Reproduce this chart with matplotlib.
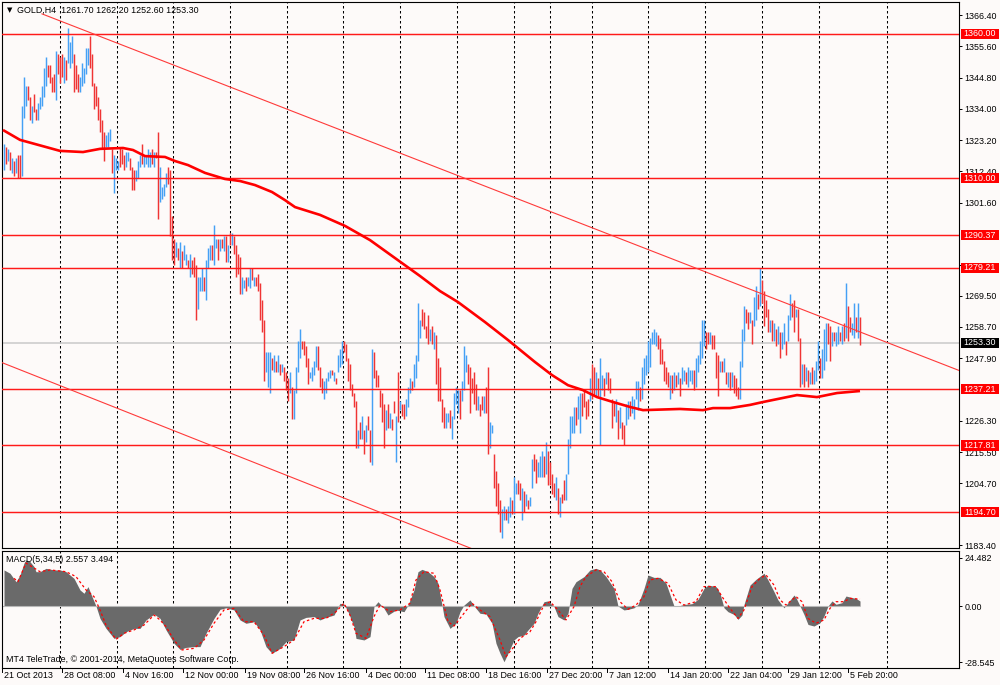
import matplotlib
matplotlib.use("Agg")
import matplotlib.pyplot as plt
import matplotlib.transforms as mtransforms
from matplotlib.patches import Rectangle

plt.rcParams['font.family'] = ['Liberation Sans', 'DejaVu Sans']

# ---- H4 price bars (one entry per bar) ----
bar_low = [
    1313, 1315, 1316, 1313, 1312, 1311, 1312, 1310, 1310, 1311,
    1331, 1335, 1337, 1330, 1329, 1333, 1330, 1330, 1334, 1335,
    1338, 1342, 1345, 1343, 1340, 1340, 1337, 1346, 1343, 1345,
    1343, 1344, 1350, 1348, 1350, 1340, 1341, 1340, 1340, 1342,
    1343, 1346, 1349, 1348, 1342, 1334, 1335, 1330, 1326, 1320,
    1316, 1321, 1321, 1323, 1312, 1305, 1313, 1313, 1314, 1315,
    1313, 1314, 1316, 1313, 1306, 1306, 1309, 1310, 1314, 1315,
    1314, 1315, 1314, 1314, 1315, 1314, 1317, 1296, 1302, 1303,
    1304, 1307, 1308, 1290, 1282, 1280, 1283, 1282, 1279, 1279,
    1282, 1280, 1279, 1276, 1277, 1276, 1261, 1265, 1271, 1271,
    1271, 1268, 1279, 1282, 1282, 1280, 1286, 1282, 1285, 1286,
    1285, 1281, 1281, 1287, 1287, 1284, 1276, 1277, 1270, 1270,
    1272, 1271, 1273, 1272, 1275, 1273, 1273, 1271, 1261, 1257,
    1240, 1243, 1238, 1236, 1244, 1243, 1243, 1243, 1242, 1243,
    1240, 1237, 1233, 1236, 1227, 1227, 1236, 1243, 1248, 1251,
    1249, 1245, 1239, 1241, 1240, 1242, 1245, 1244, 1238, 1236,
    1234, 1236, 1240, 1241, 1242, 1240, 1239, 1243, 1245, 1246,
    1250, 1247, 1240, 1237, 1235, 1231, 1217, 1217, 1220, 1220,
    1215, 1219, 1223, 1212, 1211, 1241, 1238, 1238, 1231, 1226,
    1217, 1223, 1224, 1224, 1223, 1229, 1212, 1226, 1230, 1228,
    1227, 1228, 1231, 1236, 1237, 1238, 1241, 1247, 1255, 1259,
    1258, 1255, 1253, 1254, 1253, 1251, 1239, 1233, 1233, 1226,
    1224, 1224, 1226, 1224, 1220, 1227, 1232, 1229, 1227, 1233,
    1237, 1243, 1239, 1229, 1236, 1232, 1230, 1230, 1228, 1230,
    1229, 1229, 1215, 1217, 1222, 1203, 1197, 1194, 1188, 1186,
    1192, 1192, 1191, 1193, 1194, 1194, 1201, 1201, 1199, 1192,
    1195, 1197, 1196, 1197, 1203, 1209, 1205, 1207, 1207, 1207,
    1207, 1208, 1204, 1204, 1201, 1200, 1199, 1194, 1193, 1198,
    1199, 1199, 1208, 1217, 1222, 1222, 1225, 1227, 1222, 1228,
    1231, 1227, 1228, 1233, 1234, 1235, 1235, 1235, 1218, 1237,
    1235, 1239, 1237, 1236, 1224, 1228, 1226, 1220, 1224, 1220,
    1218, 1225, 1227, 1228, 1229, 1227, 1234, 1230, 1233, 1234,
    1239, 1242, 1243, 1245, 1253, 1253, 1252, 1251, 1246, 1246,
    1240, 1239, 1238, 1234, 1236, 1237, 1238, 1239, 1235, 1239,
    1240, 1239, 1238, 1240, 1239, 1237, 1238, 1243, 1246, 1248,
    1252, 1251, 1253, 1253, 1251, 1251, 1241, 1235, 1243, 1243,
    1243, 1239, 1238, 1237, 1238, 1236, 1235, 1234, 1234, 1245,
    1254, 1260, 1258, 1260, 1253, 1259, 1261, 1265, 1266, 1267,
    1259, 1262, 1257, 1257, 1254, 1254, 1252, 1253, 1248, 1251,
    1253, 1249, 1254, 1261, 1262, 1257, 1262, 1254, 1238, 1239,
    1238, 1240, 1238, 1239, 1239, 1239, 1240, 1244, 1241, 1241,
    1244, 1247, 1253, 1247, 1252, 1254, 1252, 1253, 1254, 1253,
    1254, 1255, 1254, 1257, 1256, 1255, 1257, 1255, 1252.6,
]
bar_high = [
    1322, 1321, 1320, 1319, 1317, 1316, 1317, 1318, 1318, 1335,
    1345, 1342, 1342, 1338, 1335, 1339, 1334, 1336, 1338, 1342,
    1348, 1352, 1349, 1349, 1345, 1346, 1354, 1353, 1352, 1353,
    1352, 1351, 1362, 1357, 1359, 1353, 1349, 1346, 1345, 1350,
    1348, 1355, 1355, 1359, 1353, 1343, 1342, 1338, 1334, 1330,
    1326, 1325, 1326, 1327, 1320, 1318, 1317, 1316, 1321, 1320,
    1318, 1319, 1319, 1317, 1314, 1313, 1313, 1316, 1318, 1322,
    1318, 1318, 1320, 1319, 1320, 1319, 1319, 1326, 1314, 1307,
    1308, 1312, 1314, 1313, 1297, 1289, 1288, 1286, 1288, 1285,
    1287, 1284, 1282, 1284, 1282, 1283, 1280, 1276, 1276, 1279,
    1276, 1282, 1286, 1287, 1287, 1294, 1289, 1289, 1289, 1289,
    1290, 1290, 1287, 1291, 1291, 1290, 1287, 1284, 1283, 1276,
    1275, 1276, 1276, 1279, 1279, 1276, 1276, 1277, 1274, 1268,
    1261, 1250, 1250, 1250, 1248, 1249, 1247, 1249, 1246, 1246,
    1245, 1243, 1241, 1243, 1238, 1237, 1245, 1254, 1258, 1254,
    1254, 1252, 1248, 1243, 1245, 1247, 1252, 1252, 1245, 1241,
    1240, 1241, 1243, 1244, 1244, 1243, 1241, 1249, 1251, 1254,
    1254, 1253, 1248, 1246, 1239, 1236, 1233, 1223, 1226, 1228,
    1223, 1225, 1228, 1223, 1251, 1250, 1244, 1242, 1237, 1236,
    1232, 1230, 1232, 1229, 1227, 1233, 1228, 1243, 1233, 1232,
    1232, 1234, 1238, 1241, 1240, 1246, 1249, 1267, 1261, 1265,
    1264, 1259, 1263, 1258, 1259, 1257, 1256, 1248, 1245, 1234,
    1231, 1229, 1229, 1230, 1228, 1236, 1238, 1237, 1237, 1240,
    1252, 1249, 1246, 1245, 1241, 1243, 1239, 1235, 1232, 1235,
    1235, 1238, 1245, 1226, 1225, 1215, 1209, 1205, 1199, 1196,
    1197, 1196, 1197, 1200, 1199, 1207, 1205, 1206, 1205, 1203,
    1202, 1201, 1199, 1200, 1213, 1215, 1213, 1212, 1214, 1216,
    1214, 1219, 1216, 1212, 1208, 1205, 1207, 1203, 1200, 1201,
    1206, 1208, 1220, 1228, 1228, 1231, 1231, 1235, 1236, 1236,
    1237, 1233, 1234, 1241, 1246, 1245, 1243, 1241, 1248, 1242,
    1241, 1243, 1243, 1241, 1234, 1233, 1234, 1230, 1231, 1226,
    1225, 1232, 1233, 1233, 1235, 1234, 1240, 1240, 1238, 1245,
    1248, 1249, 1254, 1255, 1257, 1258, 1257, 1256, 1255, 1251,
    1247, 1245, 1243, 1242, 1242, 1243, 1242, 1243, 1241, 1245,
    1244, 1243, 1245, 1244, 1244, 1244, 1248, 1249, 1254, 1261,
    1261, 1257, 1257, 1257, 1256, 1256, 1250, 1249, 1247, 1247,
    1248, 1243, 1243, 1243, 1243, 1242, 1241, 1238, 1247, 1258,
    1266, 1265, 1264, 1264, 1261, 1269, 1273, 1270, 1279, 1275,
    1271, 1268, 1265, 1261, 1261, 1260, 1258, 1259, 1257, 1257,
    1260, 1254, 1263, 1270, 1267, 1268, 1265, 1265, 1255, 1246,
    1246, 1245, 1244, 1243, 1245, 1244, 1247, 1254, 1248, 1251,
    1258, 1260, 1260, 1259, 1257, 1257, 1257, 1259, 1257, 1259,
    1260, 1274, 1266, 1262, 1260, 1267, 1262, 1267, 1262.2,
]
# u = up bar (blue), d = down bar (red)
bar_dir = (
    "ududududdu" "uuddudduuu" "uudddduddd" "uduuuddduu" "uuuddddddd"
    "duuuduuudd" "duuddduuud" "uuuududduu" "uuddddudud" "uududdduuu"
    "duuuduudud" "udududdddu" "uduududddd" "duuudududu" "ddduduuuud"
    "ddduuuuddd" "uuuududuuu" "dddddddudu" "dudduddddd" "dududdudud"
    "duuuduuuud" "dddududddd" "duuduuuudu" "uudddddudd" "udduuddddu"
    "uduuduuddu" "duduudduuu" "duddddudud" "duuuuuduud" "dddudduduu"
    "duddddudud" "duuduuuudu" "uuuuuuuddd" "dddudududu" "uduuuduuuu"
    "udduddddud" "udududdduu" "udduduudud" "dddudududu" "uduudduddu"
    "dududuuudu" "uudduduudu" "dudduudud"
)

# moving average (thick red line)
ma_bar = [-0.5, 8, 28, 39.5, 48, 59.5, 64.5, 70.5, 80.5, 85.5,
          92, 100.5, 110.5, 118, 125.5, 134, 140.5, 145.5, 158, 170.5,
          183, 195.5, 208, 218, 227, 240.5, 252, 265.5, 274, 282,
          289.5, 296.5, 304.5, 313, 319.5, 338, 349.5, 354.5, 363, 373,
          379.5, 396.5, 406.5, 416.5, 428]
ma_val = [1326.7, 1323.3, 1319.5, 1319.1, 1320.2, 1320.5, 1319.8, 1317.7, 1317.4, 1316.0,
          1314.6, 1311.9, 1309.8, 1309.1, 1307.7, 1305.3, 1302.5, 1300.1, 1297.4, 1293.6,
          1288.7, 1282.5, 1276.3, 1271.1, 1267.3, 1260.4, 1254.2, 1246.6, 1242.1, 1238.6,
          1236.9, 1234.5, 1232.8, 1231.1, 1230.0, 1230.4, 1230.0, 1230.7, 1230.7, 1231.8,
          1232.8, 1235.2, 1234.5, 1235.9, 1236.6]

# horizontal levels and trend lines
level_vals = [1360.00, 1310.00, 1290.37, 1279.21, 1237.21, 1217.81, 1194.70]
last_price = 1253.30
upper_trend_bar = [19, 477.5]
upper_trend_val = [1366.8, 1243.7]
lower_trend_bar = [-1, 240]
lower_trend_val = [1246.4, 1180.5]

# price scale labels that stay visible (the others sit under the level boxes)
price_ticks = [1366.40, 1355.60, 1344.80, 1334.00, 1323.20, 1312.40, 1301.60, 1280.00,
               1269.50, 1258.70, 1247.90, 1226.30, 1215.50, 1204.70, 1183.40]

# MACD(5,34,5): histogram and signal
macd_bar = [0, 3, 6, 8, 10, 11, 13, 15, 16, 18,
            21, 25, 28, 31, 35, 38, 40, 42, 44, 46,
            48, 51, 55, 58, 61, 65, 68, 71, 75, 78,
            81, 85, 88, 91, 95, 98, 101, 105, 108, 111,
            115, 118, 121, 125, 128, 131, 134, 138, 141, 145,
            148, 151, 155, 158, 161, 165, 168, 170, 172, 175,
            176, 180, 183, 185, 187, 190, 192, 196, 200, 202,
            205, 207, 209, 212, 215, 217, 219, 220, 223, 226,
            228, 230, 233, 236, 238, 241, 244, 246, 248,
            250, 252, 255, 257, 260, 262, 265, 267, 270, 272,
            275, 277, 280, 282, 284, 286, 290, 293, 296, 298,
            301, 305, 307, 310, 312, 315, 317, 320, 322, 325,
            328, 331, 335, 337, 340, 344, 347, 350, 352, 356,
            358, 360, 362, 365, 367, 369, 370, 373, 376, 380,
            382, 385, 387, 390, 392, 395, 396, 398, 400, 402,
            405, 408, 410, 412, 414, 416, 419, 421, 424, 426,
            428]
macd_val = [18.4, 16.7, 12.4, 15.8, 21.9, 23.5, 22.6, 20.1, 17.5, 17.5,
            19.2, 18.4, 18.4, 17.5, 14.1, 8.2, 6.5, 9.9, 4.8, 0.0,
            -6.3, -11.4, -16.5, -15.6, -13.1, -11.4, -11.4, -7.1, -4.1, -6.3,
            -12.2, -19.0, -22.1, -21.1, -20.7, -20.7, -13.9, -6.3, -1.7, -0.9,
            -2.0, -7.1, -8.8, -8.0, -12.2, -20.7, -24.1, -21.6, -18.2, -17.3,
            -7.1, -5.8, -5.4, -7.1, -5.8, -4.6, 1.4, 1.0, -2.9, -10.5,
            -16.5, -17.3, -15.6, -0.3, 2.2, -1.2, -4.6, -2.0, -2.9, 0.5,
            8.2, 17.5, 18.7, 17.5, 15.0, 11.6, 0.5, -5.4, -11.4, -8.8,
            -2.9, 0.5, 3.1, -1.2, -3.7, -4.1, -8.8, -19.0, -24.1,
            -28.4, -24.1, -17.3, -15.6, -14.8, -12.2, -8.8, -3.7, 2.2, 2.6,
            -0.3, -5.4, -7.1, -3.7, 9.0, 12.4, 15.0, 18.4, 19.2, 18.4,
            15.0, 9.0, 0.0, -2.0, -1.7, -0.9, 0.8, 9.0, 15.8, 14.6,
            14.6, 11.6, 0.0, 0.0, 0.8, 1.2, 3.4, 9.0, 10.7, 9.9,
            6.5, -0.9, -2.9, -4.3, -6.8, -4.6, 0.8, 10.7, 13.6, 16.7,
            13.3, 7.3, 3.1, -0.9, 1.7, 5.6, 4.3, 0.0, -4.3, -9.4,
            -10.2, -8.5, -5.1, 0.0, 2.6, 0.9, 1.7, 5.1, 4.3, 3.9,
            2.557]
sig_bar = [5, 7, 11, 18, 23, 31, 36, 41, 45, 48,
           51, 56, 60, 65, 70, 75, 78, 81, 85, 89,
           95, 100, 105, 110, 115, 120, 125, 130, 134, 140,
           145, 150, 155, 161, 166, 170, 173, 176, 181, 185,
           188, 193, 198, 203, 206, 210, 215, 218, 222, 225,
           230, 234, 238, 243, 248, 251, 255, 258, 263, 266,
           270, 273, 277, 281, 285, 288, 291, 296, 300, 304,
           308, 312, 316, 320, 323, 327, 332, 336, 340, 346,
           350, 356, 359, 363, 367, 370, 374, 378, 381, 385,
           388, 391, 396, 399, 402, 406, 410, 413, 416, 420,
           423, 428]
sig_val = [14.1, 12.4, 21.9, 17.5, 18.4, 17.5, 15.0, 8.2, 4.8, -2.0,
           -9.7, -17.0, -13.9, -12.2, -9.7, -4.6, -7.1, -10.5, -17.3, -22.4,
           -21.6, -17.3, -8.8, -2.0, -1.2, -8.0, -8.0, -14.8, -24.1, -20.7,
           -17.3, -8.0, -6.3, -6.3, -2.9, 1.4, -4.6, -13.9, -16.5, -5.4,
           0.5, -2.9, -2.0, 1.4, 13.3, 17.5, 16.7, 8.2, -8.0, -10.2,
           -3.7, 1.4, -2.0, -5.4, -17.3, -25.8, -20.7, -16.5, -13.1, -8.0,
           0.5, 2.2, -2.0, -7.1, -0.3, 9.9, 15.0, 18.4, 17.5, 12.4,
           2.2, -1.7, 0.5, 4.8, 13.3, 14.1, 11.6, 3.1, 0.5, 2.2,
           9.9, 9.9, 4.8, -1.2, -6.3, -2.0, 9.9, 14.1, 15.8, 10.7,
           3.1, 0.5, 4.8, 2.2, -6.3, -8.8, -7.1, -1.2, 2.2, 2.2,
           3.9, 3.494]
macd_ticks = [24.482, 0.0, -28.545]
macd_tick_labels = ["24.482", "0.00", "-28.545"]

# time axis
grid_bar = [28, 56.5, 84.5, 113, 141.5, 169.5, 198, 226.5, 255, 273,
            294, 322, 350.5, 379, 407.5, 441.5]
date_bar = [-1, 29, 59.5, 89.5, 120.5, 150, 181, 210.5, 241, 271.5,
            301.5, 332, 362, 392, 422]
date_labels = ["21 Oct 2013", "28 Oct 08:00", "4 Nov 16:00", "12 Nov 00:00", "19 Nov 08:00",
               "26 Nov 16:00", "4 Dec 00:00", "11 Dec 08:00", "18 Dec 16:00", "27 Dec 20:00",
               "7 Jan 12:00", "14 Jan 20:00", "22 Jan 04:00", "29 Jan 12:00", "5 Feb 20:00"]

# ---- drawing ----
W, H = 1000, 685
BG = '#fdfaf9'
UP = '#45a0f5'
DOWN = '#f03434'
FS = 6.4


def px_rect(x0, y0, x1, y1):
    return [x0 / W, 1 - y1 / H, (x1 - x0) / W, (y1 - y0) / H]


fig = plt.figure(figsize=(W / 100, H / 100), dpi=100, facecolor=BG)
ax = fig.add_axes(px_rect(2, 2, 959, 548), facecolor=BG)
ax2 = fig.add_axes(px_rect(2, 551, 959, 668), facecolor=BG)

for a in (ax, ax2):
    a.set_xlim(-1, 477.5)
    for s in a.spines.values():
        s.set_color('black')
        s.set_linewidth(0.8)
    a.set_xticks([])
    a.yaxis.tick_right()
    a.tick_params(axis='y', direction='out', length=2.5, width=0.7,
                  pad=1.5, labelsize=FS, colors='black')
    for g in grid_bar:
        a.axvline(g, color='black', lw=0.75, ls=(0, (2.4, 2.4)), zorder=1)

# price panel
ax.set_ylim(1182.4, 1370.9)
ax.set_yticks(price_ticks)
ax.set_yticklabels(["%.2f" % v for v in price_ticks])

colors = [UP if c == 'u' else DOWN for c in bar_dir]
ax.vlines(range(len(bar_low)), bar_low, bar_high, colors=colors, linewidth=1.05, zorder=3)

ax.axhline(last_price, color='#c9c9c9', lw=1.1, zorder=2)
for lv in level_vals:
    ax.axhline(lv, color='#ff1a1a', lw=1.05, zorder=4)
ax.plot(upper_trend_bar, upper_trend_val, color='#ff3a3a', lw=0.8, zorder=4)
ax.plot(lower_trend_bar, lower_trend_val, color='#ff3a3a', lw=0.8, zorder=4)
ax.plot(ma_bar, ma_val, color='#ff0000', lw=1.9, zorder=5, solid_capstyle='butt')

# level boxes on the price scale
blend = mtransforms.blended_transform_factory(fig.transFigure, ax.transData)
box_h = 3.5
for lv in level_vals + [last_price]:
    fc = 'black' if lv == last_price else '#ff0000'
    ax.add_patch(Rectangle((961 / W, lv - box_h / 2), 38 / W, box_h, transform=blend,
                           facecolor=fc, edgecolor='none', clip_on=False, zorder=8))
    ax.text(980 / W, lv, "%.2f" % lv, transform=blend, color='white', fontsize=FS,
            ha='center', va='center', clip_on=False, zorder=9)

# MACD panel
ax2.set_ylim(-31.6, 28.05)
ax2.set_yticks(macd_ticks)
ax2.set_yticklabels(macd_tick_labels)
ax2.fill_between(macd_bar, 0, macd_val, color='#6a6a6a', lw=0, zorder=2)
ax2.hlines(0, -1, 428, color='#b8b8b8', lw=0.8, zorder=2.2)
ax2.plot(sig_bar, sig_val, color='#ff0000', lw=0.9, ls=(0, (2, 2)), zorder=3)

# date labels under the MACD panel
date_tr = mtransforms.blended_transform_factory(ax2.transData, ax2.transAxes)
for b, lab in zip(date_bar, date_labels):
    ax2.plot([b, b], [0, -0.035], transform=date_tr, color='black', lw=0.7, clip_on=False)
    ax2.annotate(lab, xy=(b, 0), xycoords=date_tr, xytext=(2, -3), textcoords='offset pixels',
                 ha='left', va='top', fontsize=FS, color='black', annotation_clip=False)

# header and captions
fig.text(10 / W, 1 - 10 / H, "\u25bc", fontsize=5, ha='center', va='center',
         family=['DejaVu Sans'])
fig.text(17 / W, 1 - 10 / H, "GOLD,H4  1261.70 1262.20 1252.60 1253.30",
         fontsize=FS, ha='left', va='center')
fig.text(6 / W, 1 - 560 / H, "MACD(5,34,5) 2.557 3.494", fontsize=FS, ha='left', va='center')
fig.text(6 / W, 1 - 659 / H, "MT4 TeleTrade, \u00a9 2001-2014, MetaQuotes Software Corp.",
         fontsize=FS, ha='left', va='center')

fig.savefig("out.png", dpi=100, facecolor=BG)
